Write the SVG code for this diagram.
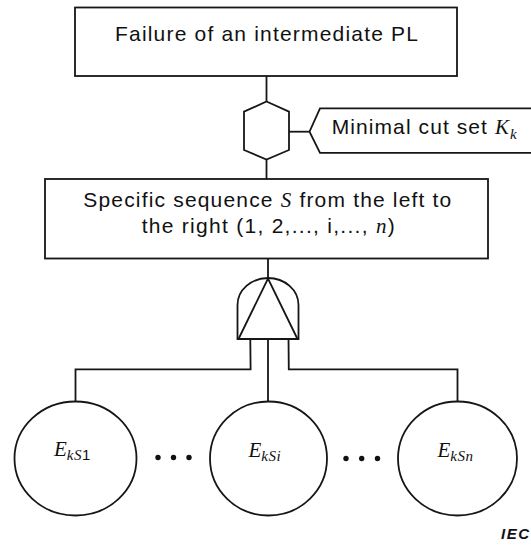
<svg xmlns="http://www.w3.org/2000/svg" width="531" height="545" viewBox="0 0 531 545">
  <style>
    .ln { fill: none; stroke: #161616; stroke-width: 1.8; stroke-linejoin: miter; }
    .bx { fill: #ffffff; stroke: #161616; stroke-width: 1.8; }
    .t  { font-family: "Liberation Sans", Arial, sans-serif; font-size: 21px; fill: #111111; }
    .m  { font-family: "Liberation Serif", "Times New Roman", serif; font-style: italic; }
    .ev { font-family: "Liberation Serif", "Times New Roman", serif; font-style: italic; font-size: 21px; fill: #111111; }
    .sub { font-size: 15px; }
    .sn { font-family: "Liberation Sans", Arial, sans-serif; font-style: normal; }
    .dot { fill: #111111; }
  </style>
  <rect width="531" height="545" fill="#ffffff"/>

  <!-- connectors -->
  <g id="connectors" class="ln">
    <line x1="266.5" y1="76" x2="266.5" y2="101.5"/>
    <line x1="266.5" y1="159.5" x2="266.5" y2="179"/>
    <line x1="289" y1="131.7" x2="309.5" y2="131.7"/>
    <line x1="268" y1="258.5" x2="268" y2="278.5"/>
    <polyline points="250.3,339 250.6,369.3 75.5,369.3 75.5,401.5"/>
    <line x1="268" y1="339" x2="268" y2="401.5"/>
    <polyline points="288.5,339 288.8,369.3 457.5,369.3 457.5,401.5"/>
  </g>

  <!-- top event -->
  <g id="top-event">
    <rect class="bx" x="75" y="7.5" width="382" height="68.5"/>
    <text class="t" x="115" y="41" textLength="303" lengthAdjust="spacing">Failure of an intermediate PL</text>
  </g>

  <!-- condition hexagon with its callout -->
  <g id="condition-gate">
    <polygon class="bx" points="266.5,101.5 289,111.7 289,150 266.5,159.5 244,150 244,111.7"/>
  </g>
  <g id="condition-label">
    <polyline class="ln" points="531,108.3 320,108.3 309.5,131.7 320,152.8 531,152.8"/>
    <text class="t" x="331.7" y="134.3" textLength="185" lengthAdjust="spacing">Minimal cut set <tspan class="m">K</tspan><tspan class="m sub" dy="5">k</tspan></text>
  </g>

  <!-- intermediate event -->
  <g id="sequence">
    <rect class="bx" x="45" y="179" width="443" height="79.5"/>
    <text class="t" x="83.3" y="207.3" textLength="368" lengthAdjust="spacing">Specific sequence <tspan class="m">S</tspan> from the left to</text>
    <text class="t" x="141.7" y="233.3" textLength="253" lengthAdjust="spacing">the right (1, 2,..., i,..., <tspan class="m">n</tspan>)</text>
  </g>

  <!-- priority AND gate -->
  <g id="priority-and-gate">
    <path class="bx" d="M237.5,339 L237.5,305 A30.5,27 0 0 1 298.5,305 L298.5,339 Z"/>
    <polyline class="ln" points="238.5,339 268,278.5 297.5,339"/>
  </g>

  <!-- basic events -->
  <g id="event-1">
    <ellipse class="bx" cx="75.5" cy="458.5" rx="61" ry="57"/>
    <text class="ev" x="54" y="456">E<tspan class="sub" dy="4" letter-spacing="0.5">kS</tspan><tspan class="sub sn">1</tspan></text>
  </g>
  <g id="event-i">
    <ellipse class="bx" cx="268.5" cy="458.5" rx="58.5" ry="57"/>
    <text class="ev" x="248.5" y="456.5">E<tspan class="sub" dy="4" letter-spacing="0.5">kSi</tspan></text>
  </g>
  <g id="event-n">
    <ellipse class="bx" cx="457.5" cy="458.5" rx="59.5" ry="57"/>
    <text class="ev" x="437.5" y="456.5">E<tspan class="sub" dy="4" letter-spacing="0.5">kSn</tspan></text>
  </g>

  <!-- ellipses between events -->
  <g id="ellipsis-dots" class="dot">
    <circle cx="158" cy="457.5" r="2.7"/>
    <circle cx="173.5" cy="457.5" r="2.7"/>
    <circle cx="189" cy="457.5" r="2.7"/>
    <circle cx="346" cy="458.5" r="2.7"/>
    <circle cx="361.7" cy="458.5" r="2.7"/>
    <circle cx="377.5" cy="458.5" r="2.7"/>
  </g>

  <text x="501" y="538.5" font-family="Liberation Sans, Arial, sans-serif" font-size="15" font-weight="bold" font-style="italic" fill="#111111" textLength="28" lengthAdjust="spacing">IEC</text>
</svg>
